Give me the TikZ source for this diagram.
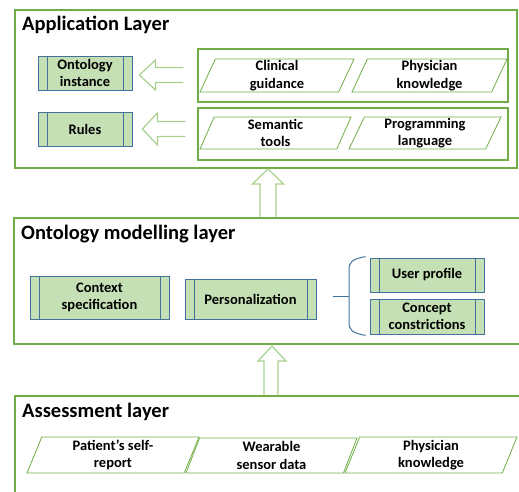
\documentclass[tikz,border=0pt]{standalone}
\usepackage{fontspec}
\setmainfont{Carlito}
\usetikzlibrary{shapes.geometric,calc}
\definecolor{layergreen}{HTML}{70AD47}
\definecolor{arrowgreen}{HTML}{A9D18E}
\definecolor{boxfill}{HTML}{C5E0B4}
\definecolor{boxblue}{HTML}{41719C}
\newcommand{\lblfont}{\fontsize{14.5}{17.5}\selectfont\bfseries}
\begin{document}
\begin{tikzpicture}[x=1pt,y=-1pt,
	layer/.style={draw=layergreen,line width=2pt,inner sep=0pt},
	group/.style={draw=layergreen,line width=1.5pt,inner sep=0pt},
	title/.style={anchor=base west,inner sep=0pt,font=\fontsize{20.5}{24}\selectfont\bfseries},
	proc/.style={draw=boxblue,fill=boxfill,line width=0.8pt,align=center,inner sep=0pt,font=\lblfont,
		path picture={\draw[boxblue,line width=0.8pt]
			([xshift=9pt]path picture bounding box.north west) -- ([xshift=9pt]path picture bounding box.south west)
			([xshift=-9pt]path picture bounding box.north east) -- ([xshift=-9pt]path picture bounding box.south east);}},
	para/.style={trapezium,trapezium left angle=63,trapezium right angle=117,trapezium stretches body,
		draw=layergreen,line width=0.8pt,align=center,inner sep=0pt,font=\lblfont},
	hollow/.style={draw=arrowgreen,line width=1.2pt,line join=miter},
	bline/.style={draw=boxblue,line width=1pt}]
	\clip (0,0) rectangle (519,492);
	% layers
	\node[layer,minimum width=502pt,minimum height=158pt] (app) at (266,89) {};
	\node[layer,minimum width=512pt,minimum height=126pt] (mod) at (270,281) {};
	\node[layer,minimum width=512pt,minimum height=112pt] (ass) at (271,452) {};
	\node[title] (apptitle) at (22,30.5) {Application Layer};
	\node[title] (modtitle) at (21,239.5) {Ontology modelling layer};
	\node[title] (asstitle) at (22,417.5) {Assessment layer};
	% application layer
	\node[proc,minimum width=94pt,minimum height=34pt] (inst) at (85,73) {Ontology\\instance};
	\node[proc,minimum width=94pt,minimum height=34pt] (rules) at (85,129) {Rules};
	\node[group,minimum width=310pt,minimum height=53pt] (grpclin) at (353,75.5) {};
	\node[group,minimum width=310pt,minimum height=52pt] (grpsem) at (353,134) {};
	\node[para,minimum width=154pt,minimum height=33pt] (clin) at (277,75.5) {Clinical\\guidance};
	\node[para,minimum width=155pt,minimum height=33pt] (phys) at (429.5,75.5) {Physician\\knowledge};
	\node[para,minimum width=151pt,minimum height=32pt] (sem) at (275.5,133) {Semantic\\tools};
	\node[para,minimum width=152pt,minimum height=32pt] (prog) at (425,133) {Programming\\language};
	\coordinate (tipa) at ($(inst.east)+(7,2)$);
	\coordinate (taila) at ($(grpclin.west)+(-14,0)$);
	\draw[hollow] (taila |- 0,67.5) -- ($(tipa)+(16,-7.5)$) -- ($(tipa)+(16,-15)$) -- (tipa)
		-- ($(tipa)+(16,15)$) -- ($(tipa)+(16,7.5)$) -- (taila |- 0,82.5);
	\coordinate (tipb) at ($(rules.east)+(10,0)$);
	\coordinate (tailb) at ($(grpsem.west)+(-12,0)$);
	\draw[hollow] (tailb |- 0,121.5) -- ($(tipb)+(15,-7.5)$) -- ($(tipb)+(15,-16)$) -- (tipb)
		-- ($(tipb)+(15,16)$) -- ($(tipb)+(15,7.5)$) -- (tailb |- 0,136.5);
	% modelling layer
	\node[proc,minimum width=139pt,minimum height=43pt] (ctx) at (99.5,297.5) {Context\\specification};
	\node[proc,minimum width=131pt,minimum height=40pt] (pers) at (250.5,299) {Personalization};
	\node[proc,minimum width=114pt,minimum height=34pt] (user) at (427,275) {User profile};
	\node[proc,minimum width=114pt,minimum height=35pt] (conc) at (427,316.5) {Concept\\constrictions};
	\coordinate (bracetop) at ($(user.north west)+(-4,-1)$);
	\coordinate (bracebot) at ($(conc.south west)+(-4,1)$);
	\coordinate (bracemid) at (349,296);
	\draw[bline] ($(pers.east)+(17,-3)$) -- (bracemid);
	\draw[bline] (bracetop) .. controls (352,259) and (349,262) .. (349,270) -- (349,322)
		.. controls (349,330) and (352,333) .. (bracebot);
	\draw[hollow] (260,0 |- mod.north) -- (260,184) -- (252.5,184) -- (268,0 |- app.south) -- (283.5,184) -- (276,184) -- (276,0 |- mod.north);
	% assessment layer
	\node[para,trapezium left angle=64,trapezium right angle=116,minimum width=172pt,minimum height=36pt] (pat) at (113,455) {Patient’s self-\\report};
	\node[para,trapezium left angle=64,trapezium right angle=116,minimum width=171pt,minimum height=35pt] (wear) at (271.5,455.5) {Wearable\\sensor data};
	\node[para,trapezium left angle=64,trapezium right angle=116,minimum width=172pt,minimum height=36pt] (phys2) at (431,455) {Physician\\knowledge};
	\draw[hollow] (264,0 |- ass.north) -- (264,361) -- (258,361) -- (272,346) -- (286,361) -- (278,361) -- (278,0 |- ass.north);
\end{tikzpicture}
\end{document}
